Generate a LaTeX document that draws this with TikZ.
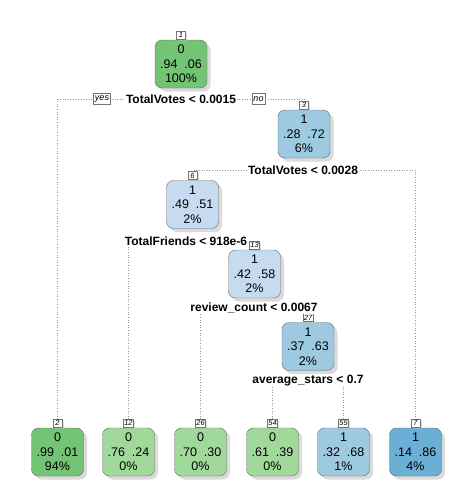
\documentclass[tikz,border=0pt]{standalone}
\usepackage{fontspec}
\setmainfont{Liberation Sans}
\usetikzlibrary{shadows,positioning}
\pgfdeclarelayer{bg}
\pgfsetlayers{bg,main}

\definecolor{gnDark}{HTML}{74C476}
\definecolor{gnLight}{HTML}{A1D99B}
\definecolor{buPale}{HTML}{C6DBEF}
\definecolor{buMid}{HTML}{9ECAE1}
\definecolor{buDark}{HTML}{6BAED6}

\begin{document}
\begin{tikzpicture}[x=1pt,y=-1pt,
	tbox/.style={draw=black!60,rounded corners=7pt,minimum width=52pt,minimum height=48pt,inner sep=0pt,align=center,
		font=\fontsize{12.5}{14.5}\selectfont,drop shadow={shadow xshift=3.5pt,shadow yshift=-3.5pt,fill=black!28}},
	nlab/.style={draw=black!55,fill=white,inner sep=0.8pt,minimum width=9pt,minimum height=8pt,
		font=\fontsize{7.5}{7.5}\selectfont\itshape,drop shadow={shadow xshift=1.5pt,shadow yshift=-1.5pt,fill=black!25}},
	split/.style={fill=white,inner sep=1pt,font=\fontsize{12}{12}\selectfont\bfseries},
	yesno/.style={draw=black!55,fill=white,inner sep=1.5pt,minimum height=11pt,font=\fontsize{9}{9}\selectfont\itshape},
	conn/.style={draw=black!40,line width=0.6pt,dash pattern=on 0.6pt off 2pt}]
\useasboundingbox (0,0) rectangle (470,488);

% inner nodes
\node[tbox,fill=gnDark]	(n1)	at (181,64)	{0\\.94\ \ .06\\100\%};
\node[tbox,fill=buMid]	(n3)	at (304,134)	{1\\.28\ \ .72\\6\%};
\node[tbox,fill=buPale]	(n6)	at (192.5,204.5)	{1\\.49\ \ .51\\2\%};
\node[tbox,fill=buPale]	(n13)	at (254.5,274)	{1\\.42\ \ .58\\2\%};
\node[tbox,fill=buMid]	(n27)	at (308,346.5)	{1\\.37\ \ .63\\2\%};

% leaves
\node[tbox,fill=gnDark]	(n2)	at (57.5,452)	{0\\.99\ \ .01\\94\%};
\node[tbox,fill=gnLight]	(n12)	at (128.5,452)	{0\\.76\ \ .24\\0\%};
\node[tbox,fill=gnLight]	(n26)	at (200.5,452)	{0\\.70\ \ .30\\0\%};
\node[tbox,fill=gnLight]	(n54)	at (272.5,452)	{0\\.61\ \ .39\\0\%};
\node[tbox,fill=buMid]	(n55)	at (343.5,452)	{1\\.32\ \ .68\\1\%};
\node[tbox,fill=buDark]	(n7)	at (415.5,452)	{1\\.14\ \ .86\\4\%};

% node numbers
\foreach \k in {1,2,3,6,7,12,13,26,27,54,55}
	\node[nlab] (l\k) [above=0.5pt of n\k] {\k};

% split rules
\node[split]	(s1)	at (181,99)	{TotalVotes < 0.0015};
\node[split]	(s3)	at (303,170)	{TotalVotes < 0.0028};
\node[split]	(s6)	at (186,241)	{TotalFriends < 918e-6};
\node[split]	(s13)	at (254,308)	{review\_count < 0.0067};
\node[split]	(s27)	at (308,381)	{average\_stars < 0.7};

\node[yesno]	(yes)	at (102,99)	{yes};
\node[yesno]	(no)	at (258.5,99)	{no};

\begin{pgfonlayer}{bg}
\draw[conn] (l2.north) |- (s1.center) -| (l3.north);
\draw[conn] (l6.north) |- (s3.center) -| (l7.north);
\draw[conn] (l12.north) |- (s6.center) -| (l13.north);
\draw[conn] (l26.north) |- (s13.center) -| (l27.north);
\draw[conn] (l54.north) |- (s27.center) -| (l55.north);
\end{pgfonlayer}
\end{tikzpicture}
\end{document}
